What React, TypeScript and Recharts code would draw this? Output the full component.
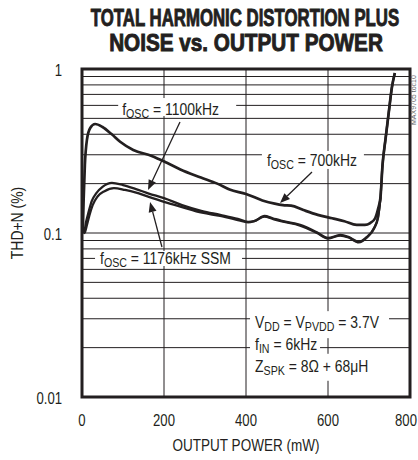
import React from "react";
import { LineChart, Line, XAxis, YAxis, ReferenceLine, ReferenceDot, ReferenceArea } from "recharts";

const FONT = '"Liberation Sans", Arial, sans-serif';
const INK = "#231f20";
const NARROW = 0.82;

// axes
const xTicks = [0, 200, 400, 600, 800];
const yTicks = [0.01, 0.1, 1];
const xGrid = [200, 400, 600];
const yGrid = [0.02, 0.03, 0.04, 0.05, 0.06, 0.07, 0.08, 0.09, 0.1, 0.2, 0.3, 0.4, 0.5, 0.6, 0.7, 0.8, 0.9];

// fOSC = 700kHz
const power700 = [2, 4, 7, 12, 20, 32, 50, 72, 93, 125, 170, 207, 240, 290, 330, 360, 400, 440, 470, 490, 510, 540, 575, 610, 640, 670, 690, 703, 715, 722, 728, 733, 740, 748, 756, 763];
const thd700 = [0.104, 0.16, 0.26, 0.37, 0.437, 0.462, 0.443, 0.401, 0.36, 0.321, 0.295, 0.268, 0.244, 0.218, 0.2, 0.184, 0.173, 0.158, 0.151, 0.148, 0.147, 0.138, 0.129, 0.123, 0.118, 0.112, 0.112, 0.115, 0.123, 0.14, 0.165, 0.26, 0.369, 0.539, 0.777, 0.945];

// fOSC = 1100kHz
const power1100 = [2, 5, 10, 16, 24, 35, 50, 73, 100, 130, 163, 200, 244, 293, 337, 380, 405, 420, 445, 465, 485, 532, 573, 600, 630, 650, 675, 695, 712, 722, 728, 733, 740, 748, 756, 763];
const thd1100 = [0.104, 0.101, 0.117, 0.134, 0.157, 0.175, 0.191, 0.202, 0.196, 0.186, 0.174, 0.163, 0.148, 0.136, 0.129, 0.122, 0.117, 0.118, 0.127, 0.123, 0.119, 0.112, 0.101, 0.0933, 0.0972, 0.0946, 0.0882, 0.0946, 0.107, 0.125, 0.165, 0.26, 0.369, 0.539, 0.777, 0.945];

// fOSC = 1176kHz SSM
const power1176 = [2, 6, 12, 18, 26, 38, 55, 78, 105, 130, 163, 200, 244, 293, 337, 380, 405, 420, 445, 465, 485, 532, 573, 600, 630, 650, 675, 695, 712, 722, 728];
const thd1176 = [0.104, 0.1, 0.112, 0.128, 0.148, 0.167, 0.18, 0.188, 0.183, 0.177, 0.166, 0.155, 0.144, 0.133, 0.127, 0.12, 0.116, 0.118, 0.126, 0.122, 0.118, 0.111, 0.1, 0.0925, 0.0965, 0.094, 0.0877, 0.094, 0.106, 0.124, 0.165];

const rows = (xs: number[], ys: number[]) => xs.map((p, i) => ({ p, thd: ys[i] }));

type Part = [string, boolean?];

// text labels: anchor in data coords, box = [left, top, right, bottom] px around anchor
const labels: { x: number; y: number; parts: Part[]; box: number[] }[] = [
  { x: 98, y: 0.57, parts: [["f"], ["OSC", true], [" = 1100kHz"]], box: [-4, -11, 114, 7] },
  { x: 451, y: 0.279, parts: [["f"], ["OSC", true], [" = 700kHz"]], box: [-5, -9, 97, 9] },
  { x: 44, y: 0.0704, parts: [["f"], ["OSC", true], [" = 1176kHz SSM"]], box: [-5, -7, 142, 8] },
  { x: 422, y: 0.0286, parts: [["V"], ["DD", true], [" = V"], ["PVDD", true], [" = 3.7V"]], box: [-5, -11, 134, 16] },
  { x: 422, y: 0.0211, parts: [["f"], ["IN", true], [" = 6kHz"]], box: [-5, -6, 65, 8] },
  { x: 422, y: 0.0155, parts: [["Z"], ["SPK", true], [" = 8Ω + 68μH"]], box: [-5, -12, 127, 15] },
];

const arrows = [
  { from: { x: 239, y: 0.475 }, to: { x: 161, y: 0.183 } },
  { from: { x: 561, y: 0.2355 }, to: { x: 483, y: 0.1524 } },
  { from: { x: 195, y: 0.0822 }, to: { x: 166, y: 0.1545 } },
];

function Narrow({ x, y, size, anchor = "start", rotate = 0, sx = NARROW, weight, stroke, children }: any) {
  return (
    <g transform={`translate(${x},${y}) rotate(${rotate}) scale(${sx},1)`}>
      <text x={0} y={0} textAnchor={anchor} fill={INK} fontFamily={FONT} fontSize={size} fontWeight={weight} stroke={stroke ? INK : undefined} strokeWidth={stroke}>
        {children}
      </text>
    </g>
  );
}

function renderParts(parts: Part[]) {
  let down = false;
  return parts.map(([t, sub], i) => {
    let dy = 0;
    if (sub && !down) { dy = 3; down = true; }
    else if (!sub && down) { dy = -3; down = false; }
    return (
      <tspan key={i} dy={dy} fontSize={sub ? 13 : 17}>{t}</tspan>
    );
  });
}

const labelShape = (l: { parts: Part[]; box: number[] }) => (props: any) => {
  const { cx, cy } = props;
  const [l0, t0, r0, b0] = l.box;
  return (
    <g>
      <rect x={cx + l0} y={cy + t0} width={r0 - l0} height={b0 - t0} fill="#fff" />
      <Narrow x={cx} y={cy + 6} size={17}>{renderParts(l.parts)}</Narrow>
    </g>
  );
};

const arrowShape = (props: any) => {
  const { x1, y1, x2, y2 } = props;
  const dx = x2 - x1, dy = y2 - y1;
  const len = Math.hypot(dx, dy);
  const ux = dx / len, uy = dy / len;
  const hl = 10, hw = 4;
  const bx = x2 - ux * hl, by = y2 - uy * hl;
  return (
    <g>
      <line x1={x1} y1={y1} x2={bx} y2={by} stroke={INK} strokeWidth={1.3} />
      <polygon
        points={`${x2},${y2} ${bx - uy * hw},${by + ux * hw} ${bx + uy * hw},${by - ux * hw}`}
        fill={INK}
      />
    </g>
  );
};

const fmtY = (v: number) => (v >= 1 ? "1" : v >= 0.1 ? "0.1" : "0.01");

const YTick = (props: any) => (
  <Narrow x={props.x} y={props.y + 7} size={16} anchor="end">{fmtY(props.payload.value)}</Narrow>
);

const XTick = (props: any) => (
  <Narrow x={props.x} y={props.y + 12} size={16} anchor="middle">{props.payload.value}</Narrow>
);

export default function App() {
  return (
    <div style={{ position: "absolute", left: 0, top: 0, width: 418, height: 460, background: "#fff", fontFamily: FONT }}>
      <LineChart width={418} height={460} margin={{ top: 69, right: 8, bottom: 0, left: 0 }}>
        <XAxis
          type="number"
          dataKey="p"
          domain={[0, 800]}
          ticks={xTicks}
          allowDataOverflow
          height={63}
          axisLine={false}
          tickLine={false}
          tickSize={0}
          tickMargin={17}
          tick={<XTick />}
          label={{
            content: (p: any) => (
              <Narrow x={p.viewBox.x + p.viewBox.width / 2} y={p.viewBox.y + 54} size={16.5} anchor="middle">
                OUTPUT POWER (mW)
              </Narrow>
            ),
          }}
        />
        <YAxis
          scale="log"
          domain={[0.01, 1]}
          ticks={yTicks}
          allowDataOverflow
          width={82}
          axisLine={false}
          tickLine={false}
          tickSize={0}
          tickMargin={20}
          tick={<YTick />}
          label={{
            content: (p: any) => (
              <Narrow x={p.viewBox.x + 23} y={p.viewBox.y + p.viewBox.height / 2 - 10} size={17} anchor="middle" rotate={-90}>
                THD+N (%)
              </Narrow>
            ),
          }}
        />
        {yGrid.map((v) => (
          <ReferenceLine key={"gy" + v} y={v} stroke={INK} strokeWidth={1} />
        ))}
        {xGrid.map((v) => (
          <ReferenceLine key={"gx" + v} x={v} stroke={INK} strokeWidth={1} />
        ))}
        {labels.map((l, i) => (
          <ReferenceDot key={"b" + i} x={l.x} y={l.y} r={0} shape={labelShape(l)} />
        ))}
        <Line data={rows(power700, thd700)} dataKey="thd" type="monotone" stroke={INK} strokeWidth={2.7} dot={false} isAnimationActive={false} />
        <Line data={rows(power1100, thd1100)} dataKey="thd" type="monotone" stroke={INK} strokeWidth={2.3} dot={false} isAnimationActive={false} />
        <Line data={rows(power1176, thd1176)} dataKey="thd" type="monotone" stroke={INK} strokeWidth={2.3} dot={false} isAnimationActive={false} />
        {arrows.map((a, i) => (
          <ReferenceLine key={"a" + i} segment={[a.from, a.to]} shape={arrowShape} />
        ))}
        <ReferenceArea x1={0} x2={800} y1={0.01} y2={1} fill="none" stroke={INK} strokeWidth={3} />
      </LineChart>
      <svg width={418} height={460} style={{ position: "absolute", left: 0, top: 0, pointerEvents: "none" }}>
        <Narrow x={245} y={26} size={23} anchor="middle" sx={0.73} weight={700} stroke={0.9}>
          TOTAL HARMONIC DISTORTION PLUS
        </Narrow>
        <Narrow x={246} y={51} size={23} anchor="middle" sx={0.9} weight={700} stroke={0.9}>
          NOISE vs. OUTPUT POWER
        </Narrow>
        <text x={416} y={125} transform="rotate(-90 416 125)" fontFamily={FONT} fontSize={7} fill="#666">MAX9705 toc10</text>
      </svg>
    </div>
  );
}
